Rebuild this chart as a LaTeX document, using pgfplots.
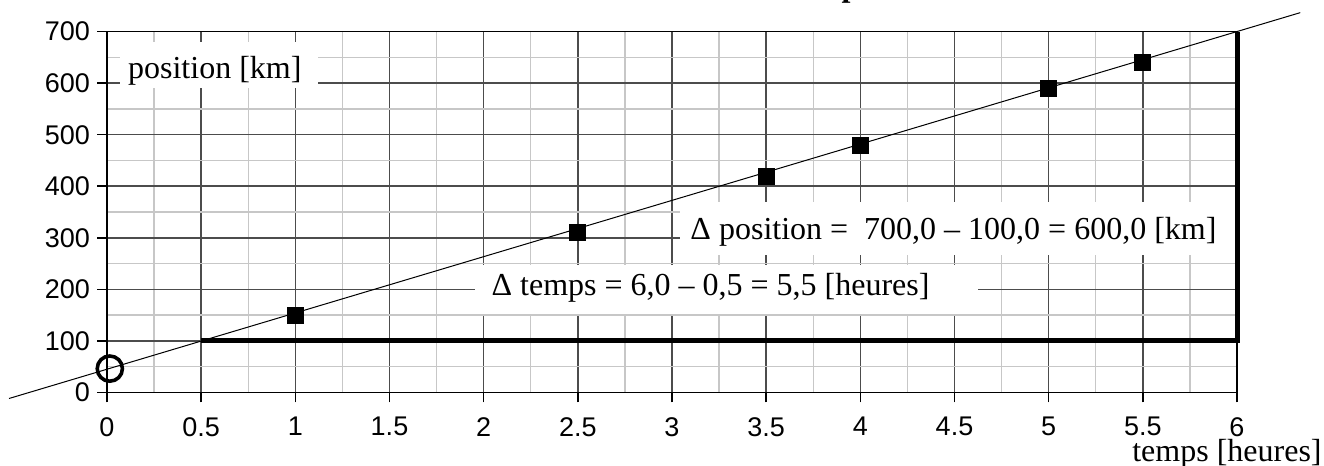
\documentclass[border=0pt]{standalone}
\usepackage{fontspec}
\setmainfont{Liberation Serif}
\setsansfont{Liberation Sans}
\usepackage{pgfplots}
\pgfplotsset{compat=1.18}
\begin{document}
\begin{tikzpicture}
\begin{axis}[
  at={(0,0)}, anchor=south west,
  scale only axis, width=565pt, height=180.3pt,
  xmin=0, xmax=6, ymin=0, ymax=700,
  xtick={0,0.5,1,1.5,2,2.5,3,3.5,4,4.5,5,5.5,6},
  ytick={0,100,200,300,400,500,600,700},
  minor xtick={0.25,0.75,1.25,1.75,2.25,2.75,3.25,3.75,4.25,4.75,5.25,5.75},
  minor ytick={50,150,250,350,450,550,650},
  grid=both,
  major grid style={black!70, line width=0.75pt},
  minor grid style={black!22, line width=0.7pt},
  tick align=outside, tick pos=left,
  major tick length=5pt, minor tick length=0pt,
  tick style={black, line width=0.75pt},
  axis line style={black, line width=0.75pt},
  clip=false,
  /pgf/number format/assume math mode=true,
  ticklabel style={font=\sffamily\fontsize{13.5}{16}\selectfont},
  xticklabel style={yshift=-4pt},
]
\fill[white] (axis cs:3.045,266) rectangle (axis cs:6,370);
\fill[white] (axis cs:1.955,152) rectangle (axis cs:4.625,248);
\fill[white] (axis cs:0.07,591) rectangle (axis cs:1.12,680);
\node[anchor=base west, inner sep=0, font=\fontsize{16}{19}\selectfont] at (axis cs:3.096,295.7) {Δ position = \ 700,0 – 100,0 = 600,0 [km]};
\node[anchor=base west, inner sep=0, font=\fontsize{16}{19}\selectfont] at (axis cs:2.04,187) {Δ temps = 6,0 – 0,5 = 5,5 [heures]};
\node[anchor=base west, inner sep=0, font=\fontsize{16}{19}\selectfont] at (axis cs:0.11,610) {position [km]};
\addplot[black, line width=0.5pt] coordinates {(-0.52,-12) (6.336,737)};
\addplot[black, line width=2.5pt, line join=miter] coordinates {(0.5,100) (6,100) (6,700)};
\addplot[black, only marks, mark=square*, mark size=4pt] coordinates {(1,150) (2.5,310) (3.5,420) (4,480) (5,590) (5.5,640)};
\addplot[black, only marks, mark=o, mark size=6.3pt, line width=1.8pt] coordinates {(0.015,46)};
\end{axis}
\node[anchor=base east, inner sep=0, font=\fontsize{16}{19}\selectfont] at (607.5pt,-34.85pt) {temps [heures]};
\node[anchor=base east, inner sep=0, font=\bfseries\fontsize{16}{19}\selectfont] at (382.6pt,198pt) {Position en fonction du temps};
\pgfresetboundingbox
\useasboundingbox (-53.5pt,-36.85pt) rectangle (608.5pt,196.15pt);
\end{tikzpicture}
\end{document}
